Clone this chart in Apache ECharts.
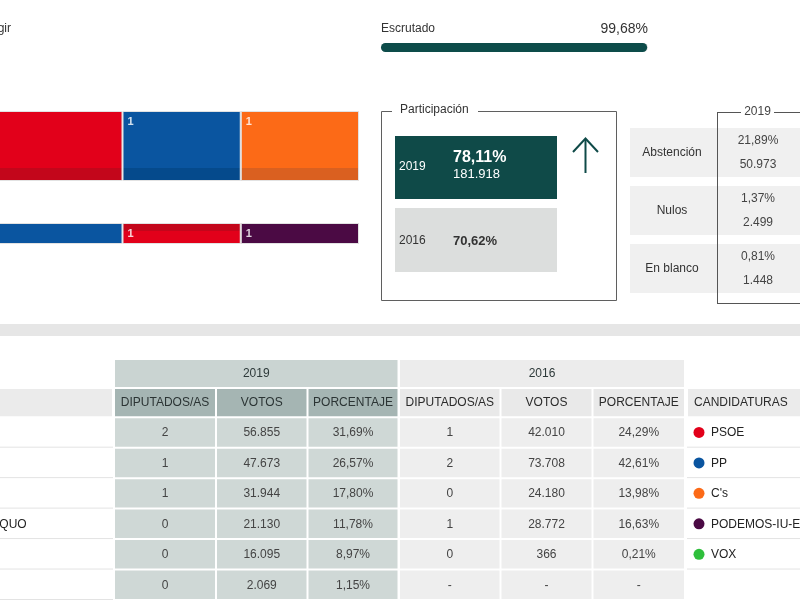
<!DOCTYPE html>
<html><head><meta charset="utf-8">
<script src="https://cdn.jsdelivr.net/npm/echarts@6/dist/echarts.min.js"></script>
<style>html,body{margin:0;padding:0;background:#fff;overflow:hidden}#c{width:800px;height:600px}</style>
</head><body><div id="c"></div>
<script>
// ---------------- DATA ----------------
const escrutadoPct = 99.68;
const seatParties2019 = ['PSOE', 'PP', "C's"];
const seatCounts2019 = [2, 1, 1];
const seatParties2016 = ['PP', 'PSOE', 'PODEMOS-IU-EQUO'];
const seatCounts2016 = [2, 1, 1];
const partYears = ['2019', '2016'];
const partPct = [78.11, 70.62];
const partVotantes2019 = 181918;
const otrosLabels = ['Abstención', 'Nulos', 'En blanco'];
const otrosPct2019 = [21.89, 1.37, 0.81];
const otrosVotos2019 = [50973, 2499, 1448];
const tableParties = ['PSOE', 'PP', "C's", 'PODEMOS-IU-EQUO', 'VOX', 'PACMA'];
const candidaturas = ['PSOE', 'PP', "C's", 'PODEMOS-IU-EQUO', 'VOX'];
const dip2019 = [2, 1, 1, 0, 0, 0];
const votos2019 = [56855, 47673, 31944, 21130, 16095, 2069];
const pct2019 = [31.69, 26.57, 17.80, 11.78, 8.97, 1.15];
const dip2016 = [1, 2, 0, 1, 0, null];
const votos2016 = [42010, 73708, 24180, 28772, 366, null];
const pct2016 = [24.29, 42.61, 13.98, 16.63, 0.21, null];
const colHeaders = ['DIPUTADOS/AS', 'VOTOS', 'PORCENTAJE'];
const yearHeaders = ['2019', '2016'];

// ---------------- STYLE / LAYOUT ----------------
const FONT = '"Liberation Sans", Arial, Helvetica, sans-serif';
const TEAL = '#0f4a48';
const partyColor = {'PSOE':'#e2001a','PP':'#0a55a0',"C's":'#fc6a17','PODEMOS-IU-EQUO':'#4b0a44','VOX':'#2fbf3c','PACMA':'#8cc63f'};
const partyDark  = {'PSOE':'#c3061b','PP':'#054a8c',"C's":'#da6020','PODEMOS-IU-EQUO':'#420a3c','VOX':'#27a334','PACMA':'#79ad35'};
const fmtInt = n => String(n).replace(/\B(?=(\d{3})+(?!\d))/g, '.');
const fmtPct = v => v.toFixed(2).replace('.', ',') + '%';
const vgrad = stops => new echarts.graphic.LinearGradient(0, 0, 0, 1, stops);
const totalSeats = seatCounts2019.reduce((a, b) => a + b, 0);
const seatViewMin = 0.964; // view window: left part of the seat bars is scrolled off-screen

const chart = echarts.init(document.getElementById('c'), null, {renderer: 'canvas'});

// ---- table cells ----
const COL = {name:[-100,113], d19:[114,216], v19:[216,307.5], p19:[307.5,398.5], d16:[399,500.5], v16:[500.5,592.5], p16:[592.5,685], cand:[687,830]};
const rowEdge = r => r <= 2 ? r * 0.955 : 1.91 + (r - 2);
const cells = [];
function cell(col, r0, r1, o) { cells.push(Object.assign({x0: col[0], x1: col[1], y0: rowEdge(r0), y1: rowEdge(r1)}, o)); }
cell([COL.d19[0], COL.p19[1]], 0, 1, {fill:'#cad4d2', inset:1, text:yearHeaders[0], color:'#2e3a3a'});
cell([COL.d16[0], COL.p16[1]], 0, 1, {fill:'#ececec', inset:1, text:yearHeaders[1], color:'#2e3a3a'});
cell(COL.name, 1, 2, {fill:'#ebebeb', inset:1});
['d19','v19','p19'].forEach((k, i) => cell(COL[k], 1, 2, {fill:'#a5b5b3', inset:1, text:colHeaders[i], color:'#2b3434'}));
['d16','v16','p16'].forEach((k, i) => cell(COL[k], 1, 2, {fill:'#e9e9e9', inset:1, text:colHeaders[i], color:'#2b2b2b'}));
cell(COL.cand, 1, 2, {fill:'#ebebeb', inset:1, text:'CANDIDATURAS', align:'left', pad:7, color:'#2b2b2b'});
tableParties.forEach((p, i) => {
  const r = i + 2;
  cell(COL.name, r, r + 1, {line:'#e3e3e3', text:p, align:'left', pad:10, color:'#222', size:12});
  cell(COL.d19, r, r + 1, {fill:'#cfd8d6', inset:1, text:String(dip2019[i]), color:'#444'});
  cell(COL.v19, r, r + 1, {fill:'#cfd8d6', inset:1, text:fmtInt(votos2019[i]), color:'#444'});
  cell(COL.p19, r, r + 1, {fill:'#cfd8d6', inset:1, text:fmtPct(pct2019[i]), color:'#444'});
  cell(COL.d16, r, r + 1, {fill:'#eeeeee', inset:1, text:dip2016[i] == null ? '-' : String(dip2016[i]), color:'#444'});
  cell(COL.v16, r, r + 1, {fill:'#eeeeee', inset:1, text:votos2016[i] == null ? '-' : fmtInt(votos2016[i]), color:'#444'});
  cell(COL.p16, r, r + 1, {fill:'#eeeeee', inset:1, text:pct2016[i] == null ? '-' : fmtPct(pct2016[i]), color:'#444'});
  if (i < candidaturas.length) {
    cell(COL.cand, r, r + 1, {line:'#e3e3e3', dot:partyColor[candidaturas[i]], text:candidaturas[i], align:'left', pad:24, color:'#222', size:12});
  }
});

function renderCell(params, api) {
  const c = cells[params.dataIndex];
  const a = api.coord([api.value(0), api.value(2)]);
  const b = api.coord([api.value(1), api.value(3)]);
  const ch = [];
  const ins = c.inset || 0;
  if (c.fill) ch.push({type:'rect', shape:{x:a[0]+ins, y:a[1]+ins, width:b[0]-a[0]-2*ins, height:b[1]-a[1]-2*ins}, style:{fill:c.fill}});
  if (c.line) ch.push({type:'line', shape:{x1:a[0], y1:b[1]-0.5, x2:b[0], y2:b[1]-0.5}, style:{stroke:c.line, lineWidth:1}});
  if (c.dot) ch.push({type:'circle', shape:{cx:a[0]+12, cy:(a[1]+b[1])/2, r:5.5}, style:{fill:c.dot}});
  if (c.text) {
    const left = c.align === 'left';
    const tx = left ? a[0] + c.pad : (a[0] + b[0]) / 2;
    ch.push({type:'text', x:tx, y:(a[1]+b[1])/2 + 0.5, style:{text:c.text, fill:c.color || '#333', font:`normal ${c.size||12}px ${FONT}`, align:left?'left':'center', verticalAlign:'middle', textAlign:left?'left':'center', textVerticalAlign:'middle'}});
  }
  return {type:'group', children:ch};
}

// ---- graphics ----
function T(x, y, text, o) {
  o = o || {};
  return {type:'text', x:x, y:y, silent:true, z:o.z||10, style:{text:text, fill:o.color||'#333', font:`${o.weight||'normal'} ${o.size||12}px ${FONT}`, align:o.align||'left', verticalAlign:'middle', textAlign:o.align||'left', textVerticalAlign:'middle'}};
}
function R(x, y, w, h, o) {
  return {type:'rect', silent:true, z:o.z||5, shape:{x:x, y:y, width:w, height:h}, style:Object.assign({fill:'none'}, o.style || {fill:o.fill})};
}
function L(x1, y1, x2, y2, color, w) {
  return {type:'line', silent:true, z:6, shape:{x1:x1, y1:y1, x2:x2, y2:y2}, style:{stroke:color, lineWidth:w||1}};
}
const g = [];
g.push(T(11, 29, 'Diputados/as a elegir', {align:'right', size:12}));
g.push(T(381, 29, 'Escrutado', {size:12}));
g.push(T(648, 29, fmtPct(escrutadoPct), {size:14, align:'right'}));
// participación
g.push(R(381.5, 111.5, 235, 189, {style:{fill:'none', stroke:'#5f5f5f', lineWidth:1}}));
g.push(R(392, 104, 86, 14, {fill:'#fff', z:7}));
g.push(T(400, 110, 'Participación', {size:12, z:8}));
g.push(R(395, 136, 162, 63, {fill:TEAL}));
g.push(T(399, 167, partYears[0], {color:'#fff', size:12}));
g.push(T(453, 158, fmtPct(partPct[0]), {color:'#fff', size:16, weight:'bold'}));
g.push(T(453, 174, fmtInt(partVotantes2019), {color:'#fff', size:13}));
g.push(R(395, 208, 162, 64, {fill:'#dcdedd'}));
g.push(T(399, 241, partYears[1], {color:'#333', size:12}));
g.push(T(453, 241, fmtPct(partPct[1]), {color:'#333', size:13, weight:'bold'}));
// arrow
g.push(L(585.5, 139, 585.5, 173, TEAL, 2));
g.push({type:'polyline', silent:true, z:6, shape:{points:[[573,152],[585.5,138.5],[598,152]]}, style:{stroke:TEAL, lineWidth:2, fill:'none'}});
// otros stats
const statTops = [128, 186, 244];
otrosLabels.forEach((lab, i) => {
  const t = statTops[i], mid = t + 24.5;
  g.push(R(630, t, 175, 49, {fill:'#f0f0f0', z:4}));
  g.push(T(672, mid, lab, {align:'center', size:12}));
  g.push(T(758, mid - 12, fmtPct(otrosPct2019[i]), {align:'center', size:12, color:'#444'}));
  g.push(T(758, mid + 12, fmtInt(otrosVotos2019[i]), {align:'center', size:12, color:'#444'}));
});
g.push(L(717.5, 112.5, 717.5, 303.5, '#555'));
g.push(L(717, 303.5, 805, 303.5, '#555'));
g.push(L(717, 112.5, 741, 112.5, '#555'));
g.push(L(774, 112.5, 805, 112.5, '#555'));
g.push(T(757.5, 112, '2019', {align:'center', size:12, color:'#444'}));
// separator band
g.push(R(0, 324, 800, 12, {fill:'#e6e6e6'}));

// ---- seat series ----
function seatSeries(parties, counts, axisIdx, stack, top) {
  return parties.map((p, i) => {
    const c = partyColor[p], d = partyDark[p];
    const color = top
      ? vgrad([{offset:0,color:c},{offset:0.81,color:c},{offset:0.81,color:d},{offset:1,color:d}])
      : (p === 'PSOE' ? vgrad([{offset:0,color:d},{offset:0.4,color:d},{offset:0.4,color:c},{offset:1,color:c}]) : c);
    return {
      type:'bar', name:p, stack:stack, xAxisIndex:axisIdx, yAxisIndex:axisIdx,
      data:[counts[i]], barWidth:'100%', silent:true, clip:false,
      itemStyle:{color:color, borderColor:'#e2e2e2', borderWidth:1},
      label:{show:true, position: top ? 'insideTopLeft' : 'insideLeft', distance:5,
        formatter:String(counts[i]), color:'rgba(255,255,255,0.82)', fontWeight:'bold', fontSize:11, fontFamily:FONT}
    };
  });
}

const option = {
  animation:false,
  graphic:{elements:g},
  grid:[
    {left:381, top:43, width:267, height:9},
    {left:0, top:111, width:359, height:70},
    {left:0, top:223, width:359, height:21},
    {left:0, top:359, width:800, height:248.4}
  ],
  xAxis:[
    {gridIndex:0, type:'value', min:0, max:100, show:false},
    {gridIndex:1, type:'value', min:seatViewMin, max:totalSeats, show:false},
    {gridIndex:2, type:'value', min:seatViewMin, max:totalSeats, show:false},
    {gridIndex:3, type:'value', min:0, max:800, show:false}
  ],
  yAxis:[
    {gridIndex:0, type:'category', data:['Escrutado'], show:false},
    {gridIndex:1, type:'category', data:['2019'], show:false},
    {gridIndex:2, type:'category', data:['2016'], show:false},
    {gridIndex:3, type:'value', min:0, max:7.91, inverse:true, show:false}
  ],
  series:[
    {type:'bar', xAxisIndex:0, yAxisIndex:0, data:[escrutadoPct], barWidth:'100%', silent:true,
      showBackground:true, backgroundStyle:{color:'#e4e4e4', borderRadius:5},
      itemStyle:{color:'#0d4c4a', borderRadius:5}},
    ...seatSeries(seatParties2019, seatCounts2019, 1, 's19', true),
    ...seatSeries(seatParties2016, seatCounts2016, 2, 's16', false),
    {type:'custom', xAxisIndex:3, yAxisIndex:3, silent:true, clip:false,
      encode:{x:[0,1], y:[2,3]},
      data:cells.map(c => [c.x0, c.x1, c.y0, c.y1]), renderItem:renderCell}
  ]
};
chart.setOption(option);
</script>
</body></html>
